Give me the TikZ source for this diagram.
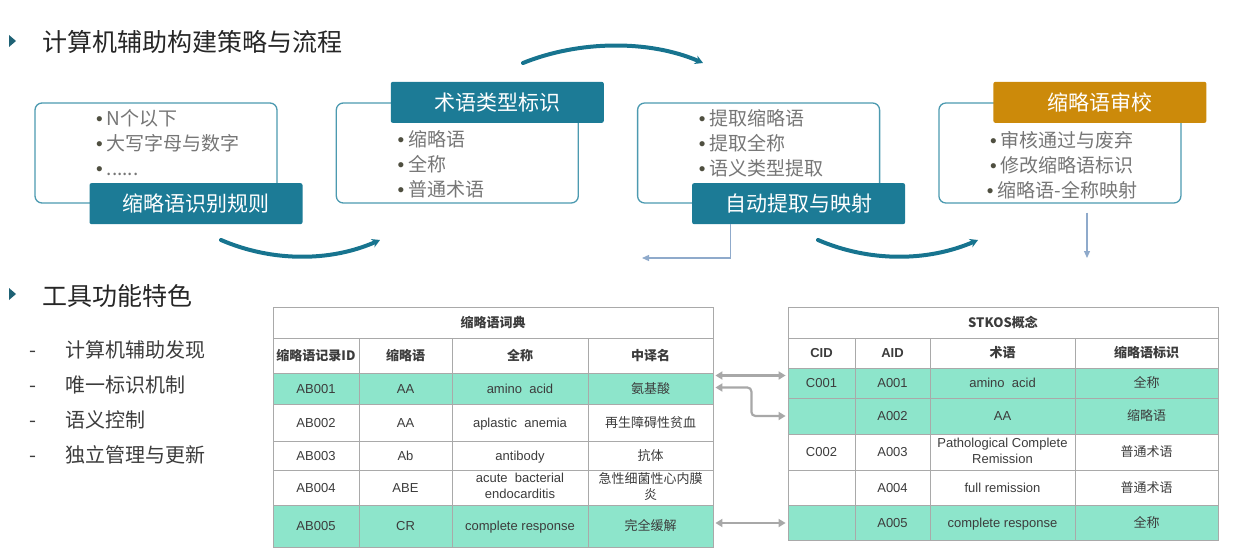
\documentclass[tikz,border=0pt]{standalone}
\usepackage{fontspec}
\setmainfont{Liberation Sans}
\newfontfamily\cjk{Noto Sans CJK SC}
\usetikzlibrary{arrows.meta,positioning}
\definecolor{tealtag}{HTML}{1C7B96}
\definecolor{goldtag}{HTML}{CC8A0A}
\definecolor{stageline}{HTML}{4C9AB0}
\definecolor{arcteal}{HTML}{17748F}
\definecolor{marker}{HTML}{1F6275}
\definecolor{itemgray}{HTML}{767676}
\definecolor{dotgray}{HTML}{4F4F40}
\definecolor{rowhl}{HTML}{8DE5CB}
\definecolor{gridgray}{HTML}{A9A9A9}
\definecolor{celltext}{HTML}{3C3C3C}
\definecolor{feedblue}{HTML}{8FAACB}
\definecolor{linkgray}{HTML}{A8A8A8}
\definecolor{headtext}{HTML}{262626}
\newcommand{\blt}{{\rmfamily\color{dotgray}\textbullet}\hspace{4pt}}
\newcommand{\cellstrut}{\rule[-3pt]{0pt}{15pt}}

\begin{document}
\begin{tikzpicture}[x=1pt, y=-1pt,
  heading/.style={anchor=west, inner sep=0, text=headtext,
                  font={\cjk\fontsize{25}{28}\selectfont}},
  stage/.style={draw=stageline, line width=1.3pt, rounded corners=7pt,
                fill=white, minimum width=242pt, minimum height=100pt},
  tagbox/.style={fill=tealtag, text=white, rounded corners=2pt,
                 minimum width=213pt, minimum height=41pt,
                 font={\cjk\fontsize{21}{24}\selectfont}},
  bullets/.style={inner sep=0, text=itemgray,
                  font={\cjk\fontsize{19}{25}\selectfont}},
  feature/.style={anchor=base west, inner sep=0, text=headtext!90,
                  font={\cjk\fontsize{20}{24}\selectfont}},
  tcell/.style n args={2}{draw=gridgray, line width=0.8pt, inner sep=1pt,
                 minimum width=#1pt, minimum height=#2pt, align=center,
                 text=celltext, font=\fontsize{13}{16}\selectfont,
                 execute at begin node=\cellstrut, execute at end node=\cellstrut},
  flowarc/.style={draw=arcteal, line width=4pt, line cap=round,
                  -{Stealth[length=8pt, width=9pt]}},
  feedline/.style={draw=feedblue, line width=1.2pt,
                   -{Triangle[length=7pt, width=6pt]}},
  tlink/.style={draw=linkgray, line width=2.2pt, shorten <=2pt, shorten >=2pt,
                {Triangle[length=7pt, width=8pt]}-{Triangle[length=7pt, width=8pt]}}
]
\useasboundingbox (0,0) rectangle (1234,556);

% strategy and workflow
\fill[marker] (9,35) -- (16,41) -- (9,47) -- cycle;
\node[heading] (title1) at (42,42) {计算机辅助构建策略与流程};

\node[stage] (box1) at (156,153) {};
\node[stage, right=58pt of box1] (box2) {};
\node[stage, right=58pt of box2] (box3) {};
\node[stage, right=58pt of box3] (box4) {};

\node[tagbox, xshift=40pt] (tag1) at (box1.south) {缩略语识别规则};
\node[tagbox, xshift=40pt] (tag2) at (box2.north) {术语类型标识};
\node[tagbox, xshift=40pt] (tag3) at (box3.south) {自动提取与映射};
\node[tagbox, fill=goldtag, xshift=40pt] (tag4) at (box4.north) {缩略语审校};

\node[bullets, anchor=west, align=left, xshift=-60pt, yshift=10pt] (items1) at (box1.center)
  {\blt N个以下\\\blt 大写字母与数字\\\blt ......};
\node[bullets, anchor=west, align=left, xshift=-60pt, yshift=-11pt] (items2) at (box2.center)
  {\blt 缩略语\\\blt 全称\\\blt 普通术语};
\node[bullets, anchor=west, align=left, xshift=-60pt, yshift=10pt] (items3) at (box3.center)
  {\blt 提取缩略语\\\blt 提取全称\\\blt 语义类型提取};
\node[bullets, align=center, xshift=2pt, yshift=-12pt] (items4) at (box4.center)
  {\blt 审核通过与废弃\\\blt 修改缩略语标识\\\blt 缩略语-全称映射};

% curved flow arrows
\draw[flowarc] (523,63) .. controls (580,40) and (650,40) .. (703,63);
\draw[flowarc] (221,240) .. controls (272,262) and (330,262) .. (380,240);
\draw[flowarc] (818,240) .. controls (869,262) and (927,262) .. (978,240);

\coordinate (back) at (642,258);
\coordinate (down) at (1087,258);
\draw[feedline] ([xshift=-68pt]tag3.south) |- (back);
\draw[feedline] ([yshift=-9pt]box4.south -| down) -- (down);

% tool features
\fill[marker] (9,288) -- (16,294) -- (9,300) -- cycle;
\node[heading] (title2) at (42,296) {工具功能特色};
\foreach \txt [count=\i] in {计算机辅助发现, 唯一标识机制, 语义控制, 独立管理与更新} {
  \node[feature] (dash\i) at (29,322+35*\i) {-};
  \node[feature] (feat\i) at (65,322+35*\i) {\txt};
}

% abbreviation dictionary
\node[tcell={440}{31}] (dict) at (493,322.5) {\cjk\bfseries 缩略语词典};
\foreach \nm/\yc/\rh/\fl/\tA/\tB/\tC/\tD in {
  hd/355.5/35/white/{\cjk\bfseries 缩略语记录ID}/{\cjk\bfseries 缩略语}/{\cjk\bfseries 全称}/{\cjk\bfseries 中译名},
  ab1/388.5/31/rowhl/AB001/AA/{amino\ \ acid}/{\cjk 氨基酸},
  ab2/422.5/37/white/AB002/AA/{aplastic\ \ anemia}/{\cjk 再生障碍性贫血},
  ab3/455.5/29/white/AB003/Ab/antibody/{\cjk 抗体},
  ab4/487.5/35/white/AB004/ABE/{acute\ \ bacterial\\endocarditis}/{{\cjk 急性细菌性心内膜}\\{\cjk 炎}},
  ab5/526/42/rowhl/AB005/CR/{complete response}/{\cjk 完全缓解}}
{
  \node[tcell={86}{\rh}, fill=\fl] (\nm-id) at (316,\yc) {\tA};
  \node[tcell={93}{\rh}, fill=\fl] (\nm-ab) at (405.5,\yc) {\tB};
  \node[tcell={136}{\rh}, fill=\fl] (\nm-en) at (520,\yc) {\tC};
  \node[tcell={125}{\rh}, fill=\fl] (\nm-zh) at (650.5,\yc) {\tD};
}

% STKOS concepts
\node[tcell={430}{31}] (stkos) at (1003,322.5) {\cjk\bfseries STKOS概念};
\foreach \nm/\yc/\rh/\fl/\tA/\tB/\tC/\tD in {
  ch/353/30/white/{\bfseries CID}/{\bfseries AID}/{\cjk\bfseries 术语}/{\cjk\bfseries 缩略语标识},
  c1/383/30/rowhl/C001/A001/{amino\ \ acid}/{\cjk 全称},
  a2/416/36/rowhl/{}/A002/AA/{\cjk 缩略语},
  a3/452/36/white/C002/A003/{Pathological Complete\\Remission}/{\cjk 普通术语},
  a4/487.5/35/white/{}/A004/{full remission}/{\cjk 普通术语},
  a5/522.5/35/rowhl/{}/A005/{complete response}/{\cjk 全称}}
{
  \node[tcell={67}{\rh}, fill=\fl] (\nm-cid) at (821.5,\yc) {\tA};
  \node[tcell={75}{\rh}, fill=\fl] (\nm-aid) at (892.5,\yc) {\tB};
  \node[tcell={145}{\rh}, fill=\fl] (\nm-term) at (1002.5,\yc) {\tC};
  \node[tcell={143}{\rh}, fill=\fl] (\nm-flag) at (1146.5,\yc) {\tD};
}

\draw[tlink] ([yshift=13pt]ab1-zh.east) -- ([yshift=13pt]ab1-zh.east -| c1-cid.west);
\draw[tlink, rounded corners=4pt] ([yshift=1pt]ab1-zh.east) -- ++(38,0) |- (a2-cid.west);
\draw[tlink] ([yshift=3pt]ab5-zh.east) -- ([yshift=3pt]ab5-zh.east -| a5-cid.west);
\end{tikzpicture}
\end{document}
